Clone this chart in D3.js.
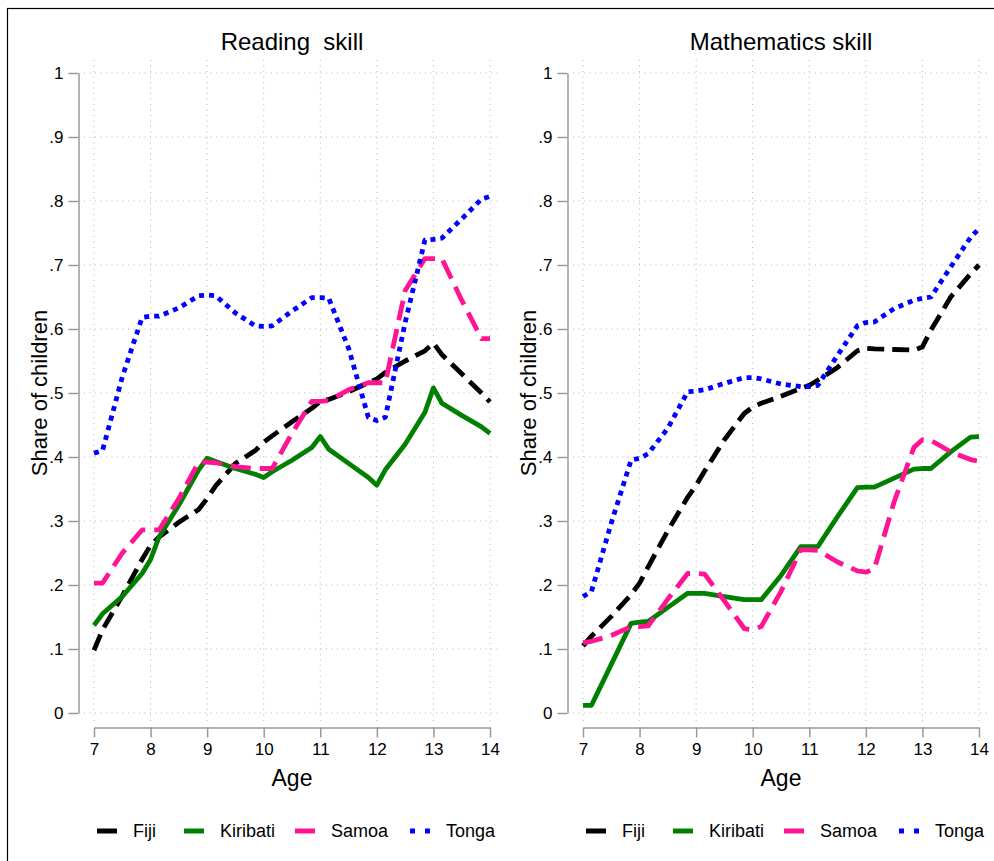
<!DOCTYPE html>
<html>
<head>
<meta charset="utf-8">
<script src="https://cdn.jsdelivr.net/npm/d3@7"></script>
<style>
  html, body { margin: 0; padding: 0; background: #fff; }
  svg { display: block; font-family: "Liberation Sans", Arial, Helvetica, sans-serif; }
</style>
</head>
<body>
<svg id="chart" width="994" height="861"></svg>
<script>
// Ages (years) at which the shares are plotted
const ages = [7, 7.15, 7.5, 7.85, 8, 8.15, 8.5, 8.85, 9, 9.15, 9.5, 9.85, 10, 10.15, 10.5, 10.85,
              11, 11.15, 11.5, 11.85, 12, 12.15, 12.5, 12.85, 13, 13.15, 13.5, 13.85, 14];

const countries = ["Fiji", "Kiribati", "Samoa", "Tonga"];

// Reading skill: share of children by age
const readingFiji     = [0.098, 0.130, 0.183, 0.240, 0.262, 0.275, 0.298, 0.318, 0.335, 0.355, 0.390, 0.410, 0.423, 0.433, 0.455, 0.476,
                         0.487, 0.490, 0.502, 0.516, 0.522, 0.532, 0.550, 0.566, 0.578, 0.560, 0.530, 0.500, 0.486];
const readingKiribati = [0.137, 0.155, 0.182, 0.218, 0.240, 0.275, 0.325, 0.380, 0.398, 0.393, 0.382, 0.373, 0.368, 0.377, 0.395, 0.415,
                         0.432, 0.412, 0.390, 0.368, 0.356, 0.380, 0.420, 0.470, 0.508, 0.484, 0.465, 0.447, 0.437];
const readingSamoa    = [0.203, 0.203, 0.250, 0.286, 0.286, 0.286, 0.335, 0.392, 0.392, 0.391, 0.385, 0.382, 0.382, 0.382, 0.437, 0.487,
                         0.487, 0.488, 0.505, 0.516, 0.516, 0.516, 0.660, 0.710, 0.710, 0.710, 0.645, 0.585, 0.585];
const readingTonga    = [0.406, 0.410, 0.525, 0.618, 0.620, 0.620, 0.633, 0.652, 0.653, 0.652, 0.625, 0.605, 0.604, 0.605, 0.628, 0.649,
                         0.649, 0.648, 0.570, 0.462, 0.457, 0.462, 0.610, 0.739, 0.740, 0.742, 0.772, 0.803, 0.807];

// Mathematics skill: share of children by age
const mathFiji     = [0.105, 0.120, 0.151, 0.185, 0.203, 0.228, 0.285, 0.337, 0.356, 0.378, 0.427, 0.468, 0.478, 0.484, 0.495, 0.507,
                      0.512, 0.520, 0.540, 0.566, 0.570, 0.569, 0.568, 0.567, 0.572, 0.598, 0.650, 0.686, 0.700];
const mathKiribati = [0.012, 0.012, 0.076, 0.140, 0.142, 0.143, 0.165, 0.187, 0.187, 0.187, 0.182, 0.177, 0.177, 0.177, 0.215, 0.260,
                      0.260, 0.260, 0.307, 0.352, 0.353, 0.353, 0.367, 0.381, 0.382, 0.382, 0.408, 0.431, 0.432];
const mathSamoa    = [0.110, 0.112, 0.121, 0.135, 0.135, 0.136, 0.178, 0.218, 0.218, 0.217, 0.175, 0.132, 0.130, 0.135, 0.190, 0.255,
                      0.255, 0.254, 0.236, 0.222, 0.220, 0.225, 0.330, 0.415, 0.427, 0.426, 0.408, 0.396, 0.393];
const mathTonga    = [0.182, 0.190, 0.297, 0.395, 0.398, 0.405, 0.445, 0.502, 0.503, 0.505, 0.515, 0.524, 0.524, 0.522, 0.514, 0.510,
                      0.510, 0.512, 0.559, 0.605, 0.610, 0.611, 0.632, 0.645, 0.648, 0.650, 0.697, 0.743, 0.757];

// Axis ticks
const xTicks = [7, 8, 9, 10, 11, 12, 13, 14];
const yTicks = [0, 0.1, 0.2, 0.3, 0.4, 0.5, 0.6, 0.7, 0.8, 0.9, 1];
const yTickLabels = ["0", ".1", ".2", ".3", ".4", ".5", ".6", ".7", ".8", ".9", "1"];

const panels = [
  { title: "Reading  skill",    x0: 94,  series: [readingFiji, readingKiribati, readingSamoa, readingTonga] },
  { title: "Mathematics skill", x0: 583, series: [mathFiji, mathKiribati, mathSamoa, mathTonga] }
];

// Line styles per country
const styles = {
  Fiji:     { color: "#000000", dash: "17,8" },
  Kiribati: { color: "#008000", dash: null },
  Samoa:    { color: "#ff1493", dash: "20,9" },
  Tonga:    { color: "#0000ff", dash: "5,5" }
};
const legendDash = { Fiji: null, Kiribati: null, Samoa: null, Tonga: "5,10" };

const svg = d3.select("#chart");
svg.append("rect").attr("width", 994).attr("height", 861).attr("fill", "#fff");

// outer frame
svg.append("rect")
  .attr("x", 7.5).attr("y", 8.5)
  .attr("width", 1000).attr("height", 900)
  .attr("fill", "none").attr("stroke", "#000").attr("stroke-width", 1.2);

const plotW = 396;
const y = d3.scaleLinear().domain([0, 1]).range([713, 73]);
const fmtY = d => yTickLabels[yTicks.findIndex(t => Math.abs(t - d) < 1e-9)];

panels.forEach(p => {
  const x = d3.scaleLinear().domain([7, 14]).range([p.x0, p.x0 + plotW]);
  const g = svg.append("g");

  // dotted grid
  g.append("g").selectAll("line").data(xTicks).join("line")
    .attr("x1", d => x(d)).attr("x2", d => x(d))
    .attr("y1", 60).attr("y2", 722)
    .attr("stroke", "#b4b4b4").attr("stroke-width", 1).attr("stroke-dasharray", "1,4.5");
  g.append("g").selectAll("line").data(yTicks).join("line")
    .attr("x1", p.x0 - 10).attr("x2", p.x0 + plotW + 12)
    .attr("y1", d => y(d)).attr("y2", d => y(d))
    .attr("stroke", "#b4b4b4").attr("stroke-width", 1).attr("stroke-dasharray", "1,4.5");

  // y axis
  const ya = g.append("g").attr("transform", `translate(${p.x0 - 15.5},0)`)
    .call(d3.axisLeft(y).tickValues(yTicks).tickFormat(fmtY).tickSize(10).tickSizeOuter(0).tickPadding(5));
  // x axis
  const xa = g.append("g").attr("transform", "translate(0,727.5)")
    .call(d3.axisBottom(x).tickValues(xTicks).tickFormat(d3.format("d")).tickSize(10).tickSizeOuter(0).tickPadding(5));
  [ya, xa].forEach(a => {
    a.select(".domain").attr("stroke", "#9a9a9a").attr("stroke-width", 1.5);
    a.selectAll(".tick line").attr("stroke", "#9a9a9a").attr("stroke-width", 1.5);
    a.selectAll(".tick text").attr("fill", "#000").style("font-size", "17px")
      .style("font-family", "'Liberation Sans', Arial, sans-serif");
  });

  // titles
  g.append("text").attr("x", p.x0 + plotW / 2).attr("y", 50)
    .attr("text-anchor", "middle").style("font-size", "24px").style("white-space", "pre")
    .text(p.title);
  g.append("text").attr("x", p.x0 + plotW / 2).attr("y", 786)
    .attr("text-anchor", "middle").style("font-size", "23px").text("Age");
  g.append("text")
    .attr("transform", `translate(${p.x0 - 47},393) rotate(-90)`)
    .attr("text-anchor", "middle").style("font-size", "22px").text("Share of children");

  // series lines
  const line = d3.line()
    .x((d, i) => x(ages[i]))
    .y(d => y(d));
  countries.forEach((c, k) => {
    g.append("path")
      .datum(p.series[k])
      .attr("d", line)
      .attr("fill", "none")
      .attr("stroke", styles[c].color)
      .attr("stroke-width", 4.8)
      .attr("stroke-dasharray", styles[c].dash)
      .attr("stroke-linejoin", "round");
  });

  // legend
  const legendX = [3, 90, 201, 316];
  countries.forEach((c, k) => {
    const lx = p.x0 + legendX[k];
    g.append("line")
      .attr("x1", lx).attr("x2", lx + 20)
      .attr("y1", 831).attr("y2", 831)
      .attr("stroke", styles[c].color).attr("stroke-width", 5)
      .attr("stroke-dasharray", legendDash[c]);
    g.append("text").attr("x", lx + 36).attr("y", 837)
      .style("font-size", "18px").text(c);
  });
});
</script>
</body>
</html>
